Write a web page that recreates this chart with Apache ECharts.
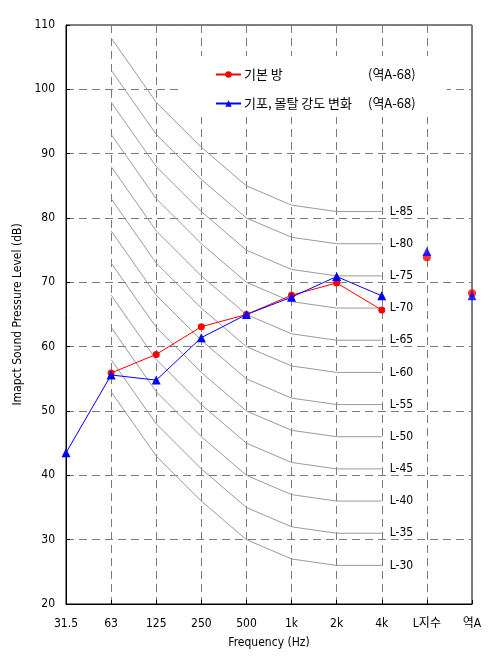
<!DOCTYPE html>
<html>
<head>
<meta charset="utf-8">
<script src="https://cdn.jsdelivr.net/npm/echarts@6/dist/echarts.min.js"></script>
<style>
html,body{margin:0;padding:0;background:#fff;}
#chart{width:498px;height:669px;}
</style>
</head>
<body>
<div id="chart"></div>
<script>
// ---- data ----
var categories = ['31.5', '63', '125', '250', '500', '1k', '2k', '4k', 'L지수', '역A'];
var yTicks = [20, 30, 40, 50, 60, 70, 80, 90, 100, 110];

var seriesBasicName = '기본 방';
var seriesFoamName = '기포, 몰탈 강도 변화';
var legendSuffix = '(역A-68)';

// measured spectra (31.5 .. 4k)
var basicValues = [null, 55.9, 58.8, 63.1, 65.0, 68.0, 69.9, 65.7];
var foamValues  = [43.5, 55.6, 54.8, 61.4, 65.0, 67.7, 70.9, 67.9];
// single-number ratings (L지수, 역A)
var basicRatings = [73.9, 68.3];
var foamRatings  = [74.8, 67.9];

// reference L-curves (31.5 .. 4k)
var curveL30 = [null, 53, 43, 36, 30, 27, 26, 26];
var curveL35 = [null, 58, 48, 41, 35, 32, 31, 31];
var curveL40 = [null, 63, 53, 46, 40, 37, 36, 36];
var curveL45 = [null, 68, 58, 51, 45, 42, 41, 41];
var curveL50 = [null, 73, 63, 56, 50, 47, 46, 46];
var curveL55 = [null, 78, 68, 61, 55, 52, 51, 51];
var curveL60 = [null, 83, 73, 66, 60, 57, 56, 56];
var curveL65 = [null, 88, 78, 71, 65, 62, 61, 61];
var curveL70 = [null, 93, 83, 76, 70, 67, 66, 66];
var curveL75 = [null, 98, 88, 81, 75, 72, 71, 71];
var curveL80 = [null, 103, 93, 86, 80, 77, 76, 76];
var curveL85 = [null, 108, 98, 91, 85, 82, 81, 81];
var curveNames = ['L-30', 'L-35', 'L-40', 'L-45', 'L-50', 'L-55', 'L-60', 'L-65', 'L-70', 'L-75', 'L-80', 'L-85'];
var curveData = [curveL30, curveL35, curveL40, curveL45, curveL50, curveL55, curveL60, curveL65, curveL70, curveL75, curveL80, curveL85];

// ---- chart ----
var FONT = '"DejaVu Sans Condensed", "DejaVu Sans", "Noto Sans CJK KR", sans-serif';
var KFONT = '"Noto Sans CJK KR", "DejaVu Sans", sans-serif';

var series = [];
curveData.forEach(function (d, i) {
  series.push({
    name: curveNames[i],
    type: 'line',
    data: d,
    showSymbol: false,
    silent: true,
    z: 1,
    lineStyle: { color: '#9a9a9a', width: 1 },
    endLabel: {
      show: true,
      formatter: curveNames[i],
      distance: 8,
      color: '#000',
      fontFamily: FONT,
      fontSize: 12
    }
  });
});

function ratingData(vals) {
  var arr = categories.map(function () { return '-'; });
  arr[8] = vals[0];
  arr[9] = vals[1];
  return arr;
}

series.push({
  name: seriesBasicName,
  type: 'line',
  data: basicValues,
  symbol: 'circle',
  symbolSize: 7,
  z: 3,
  itemStyle: { color: '#ff0000' },
  lineStyle: { color: '#ff0000', width: 1 }
});
series.push({
  name: seriesFoamName,
  type: 'line',
  data: foamValues,
  symbol: 'triangle',
  symbolSize: 9,
  z: 4,
  itemStyle: { color: '#0000ff' },
  lineStyle: { color: '#0000ff', width: 1 }
});
series.push({
  name: seriesBasicName,
  type: 'scatter',
  data: ratingData(basicRatings),
  symbol: 'circle',
  symbolSize: 8,
  z: 3,
  itemStyle: { color: '#ff0000' }
});
series.push({
  name: seriesFoamName,
  type: 'scatter',
  data: ratingData(foamRatings),
  symbol: 'triangle',
  symbolSize: 9,
  z: 4,
  itemStyle: { color: '#0000ff' }
});

var chart = echarts.init(document.getElementById('chart'), null, { renderer: 'canvas' });
chart.setOption({
  animation: false,
  backgroundColor: '#fff',
  grid: {
    left: 66, right: 26, top: 25, bottom: 65,
    show: true, borderColor: '#000', borderWidth: 1, backgroundColor: 'transparent'
  },
  legend: {
    data: [seriesBasicName, seriesFoamName],
    orient: 'vertical',
    left: 180,
    top: 56,
    backgroundColor: '#fff',
    padding: [12, 31, 7, 35],
    itemGap: 16,
    itemWidth: 25,
    itemHeight: 8,
    formatter: function (name) {
      var main = name === seriesBasicName ? seriesBasicName : seriesFoamName;
      return '{a|' + main + '}{b|' + legendSuffix + '}';
    },
    textStyle: {
      color: '#000',
      fontFamily: KFONT,
      fontSize: 13,
      padding: [0, 0, 0, -2],
      rich: {
        a: { width: 124, fontFamily: KFONT, fontSize: 13, color: '#000' },
        b: { fontFamily: KFONT, fontSize: 13, color: '#000' }
      }
    }
  },
  xAxis: {
    type: 'category',
    data: categories,
    boundaryGap: false,
    name: 'Frequency (Hz)',
    nameLocation: 'middle',
    nameGap: 33,
    nameTextStyle: { color: '#000', fontFamily: FONT, fontSize: 12 },
    axisLine: { lineStyle: { color: '#000', width: 1 } },
    axisTick: { show: true, inside: true, length: 4, lineStyle: { color: '#000' } },
    axisLabel: { interval: 0, margin: 14, color: '#000', fontFamily: FONT, fontSize: 12 },
    splitLine: { show: true, lineStyle: { color: '#7a7a7a', type: [8, 5], width: 1 } }
  },
  yAxis: {
    type: 'value',
    min: yTicks[0],
    max: yTicks[yTicks.length - 1],
    interval: 10,
    name: 'Imapct Sound Pressure Level (dB)',
    nameLocation: 'middle',
    nameGap: 33,
    nameTextStyle: { color: '#000', fontFamily: FONT, fontSize: 12 },
    axisLine: { show: true, lineStyle: { color: '#000', width: 1 } },
    axisTick: { show: true, inside: true, length: 4, lineStyle: { color: '#000' } },
    axisLabel: { margin: 11, color: '#000', fontFamily: FONT, fontSize: 12 },
    splitLine: { show: true, lineStyle: { color: '#7a7a7a', type: [8, 5], width: 1 } }
  },
  series: series
});
</script>
</body>
</html>
